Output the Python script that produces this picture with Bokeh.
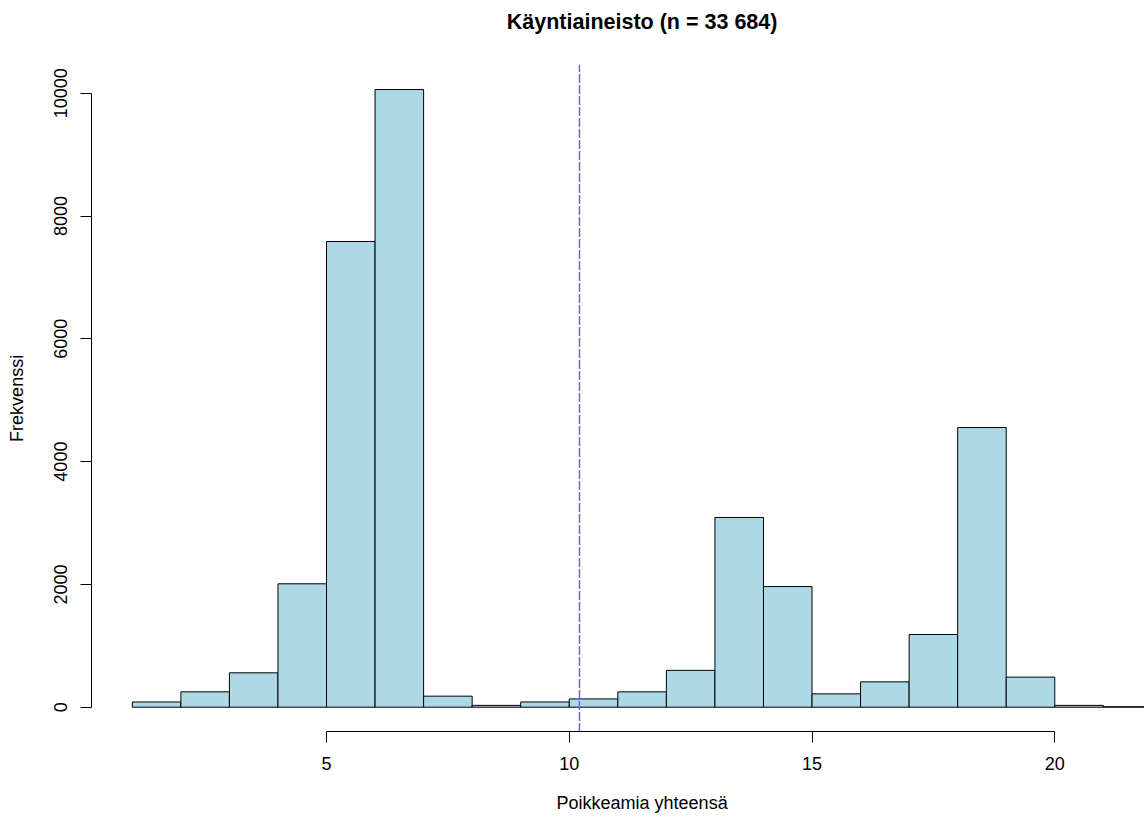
import math
from bokeh.plotting import figure
from bokeh.models import Range1d, FixedTicker, LinearAxis, Label
from bokeh.embed import file_html
from bokeh.resources import INLINE

# Data
bin_left = [1, 2, 3, 4, 5, 6, 7, 8, 9, 10, 11, 12, 13, 14, 15, 16, 17, 18, 19, 20, 21]
bin_right = [2, 3, 4, 5, 6, 7, 8, 9, 10, 11, 12, 13, 14, 15, 16, 17, 18, 19, 20, 21, 22]
counts = [85, 250, 560, 2010, 7585, 10060, 180, 30, 85, 135, 250, 600, 3090, 1965,
          217, 413, 1184, 4555, 490, 30, 8]
mean_value = 10.21
x_ticks = [5, 10, 15, 20]
y_ticks = [0, 2000, 4000, 6000, 8000, 10000]
title_text = "Käyntiaineisto (n = 33 684)"
x_label = "Poikkeamia yhteensä"
y_label = "Frekvenssi"

FONT = "Liberation Sans"

# R-style plot region limits (4% extension)
xmin, xmax = min(bin_left), max(bin_right)
ymax = max(counts)
plot_x0 = xmin - 0.04 * (xmax - xmin)
plot_x_mid = (xmin + xmax) / 2
plot_y0 = -0.04 * ymax
plot_y1 = 1.04 * ymax

# canvas-wide view ranges (the page crops the right part of the R plot)
p = figure(width=1144, height=816, output_backend="svg", toolbar_location=None,
           title=None, x_axis_location=None, y_axis_location=None,
           x_range=Range1d(-1.715, 21.848), y_range=Range1d(-1780, 11510),
           min_border_left=0, min_border_right=0, min_border_top=0,
           min_border_bottom=0)
p.outline_line_color = None
p.grid.visible = False
p.background_fill_color = "white"
p.border_fill_color = "white"

p.quad(left=bin_left, right=bin_right, bottom=0, top=counts,
       fill_color="#ADD8E6", line_color="black", line_width=1)

p.segment(x0=[mean_value], y0=[plot_y0], x1=[mean_value], y1=[plot_y1],
          line_color="#6464ff", line_alpha=1.0, line_dash="9 2", line_width=1.5)

xaxis = LinearAxis(fixed_location=plot_y0, ticker=FixedTicker(ticks=x_ticks),
                   bounds=(5, 20))
yaxis = LinearAxis(fixed_location=plot_x0, ticker=FixedTicker(ticks=y_ticks),
                   bounds=(0, 10000), major_label_orientation="vertical")
for ax in (xaxis, yaxis):
    ax.axis_line_color = "black"
    ax.axis_line_width = 1
    ax.major_tick_line_color = "black"
    ax.major_tick_in = 0
    ax.major_tick_out = 11
    ax.minor_tick_line_color = None
    ax.major_label_text_font = FONT
    ax.major_label_text_font_size = "18px"
    ax.major_label_text_color = "black"
    ax.major_label_standoff = 14
p.add_layout(xaxis, "below")
p.add_layout(yaxis, "left")

p.add_layout(Label(x=plot_x_mid, y=11160, text=title_text, text_align="center",
                   text_baseline="alphabetic", text_font=FONT,
                   text_font_size="21.5px", text_font_style="bold",
                   text_color="black"))
p.add_layout(Label(x=plot_x_mid, y=-1553, text=x_label, text_align="center",
                   text_baseline="alphabetic", text_font=FONT,
                   text_font_size="18px", text_color="black"))
p.add_layout(Label(x=-1.385, y=(plot_y0 + plot_y1) / 2, text=y_label,
                   angle=math.pi / 2, text_align="center",
                   text_baseline="alphabetic", text_font=FONT,
                   text_font_size="18px", text_color="black"))

open("out.html", "w").write(file_html(p, INLINE))
